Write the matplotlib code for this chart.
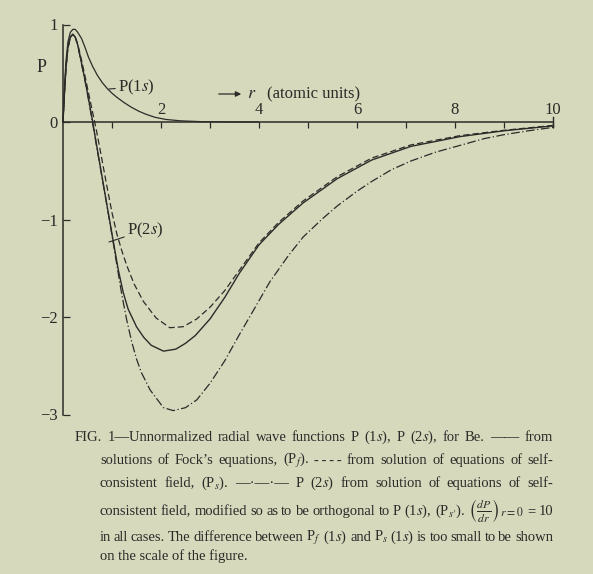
import matplotlib.pyplot as plt

# radial wave functions (r in atomic units)
r_1s = [0, 0.03, 0.06, 0.1, 0.15, 0.2, 0.25, 0.3, 0.38, 0.45, 0.52, 0.6, 0.7, 0.8,
        0.9, 1.0, 1.1, 1.25, 1.4, 1.55, 1.7, 1.88, 2.1, 2.4, 2.8, 3.3, 4.0]
p_1s = [0, 0.36, 0.62, 0.82, 0.92, 0.95, 0.95, 0.92, 0.855, 0.765, 0.665, 0.575, 0.48, 0.405,
        0.345, 0.295, 0.253, 0.198, 0.150, 0.110, 0.078, 0.048, 0.026, 0.012, 0.004, 0.001, 0]

# P(2s), Fock (solid)
r_f = [0, 0.03, 0.06, 0.1, 0.15, 0.2, 0.25, 0.3, 0.38, 0.45, 0.52, 0.6, 0.7, 0.8, 0.9,
       1.0, 1.13, 1.23, 1.33, 1.5, 1.65, 1.8, 2.05, 2.3, 2.5, 2.7, 3.0, 3.3, 3.6, 4.0,
       4.4, 4.9, 5.6, 6.3, 7.1, 8.1, 9.0, 10.0]
p_f = [0, 0.3, 0.55, 0.76, 0.87, 0.9, 0.87, 0.79, 0.60, 0.43, 0.24, 0.02, -0.28, -0.57,
       -0.86, -1.15, -1.52, -1.75, -1.92, -2.10, -2.21, -2.29, -2.35, -2.33, -2.27, -2.19,
       -2.02, -1.80, -1.55, -1.26, -1.05, -0.83, -0.58, -0.39, -0.25, -0.15, -0.09, -0.04]

# P(2s), self-consistent field (dashed)
r_s = [0, 0.03, 0.06, 0.1, 0.15, 0.2, 0.25, 0.3, 0.38, 0.45, 0.52, 0.6, 0.68, 0.8, 0.9,
       1.0, 1.1, 1.2, 1.3, 1.45, 1.64, 1.9, 2.18, 2.45, 2.73, 3.0, 3.3, 3.6, 4.0, 4.4,
       4.9, 5.6, 6.3, 7.1, 8.1, 9.0, 10.0]
p_s = [0, 0.3, 0.55, 0.76, 0.87, 0.9, 0.87, 0.8, 0.63, 0.47, 0.30, 0.11, -0.08, -0.40,
       -0.67, -0.93, -1.15, -1.32, -1.47, -1.66, -1.84, -2.01, -2.11, -2.10, -2.02, -1.90,
       -1.73, -1.52, -1.24, -1.03, -0.81, -0.56, -0.37, -0.235, -0.14, -0.085, -0.035]

# P(2s), orthogonalised to P(1s) (dash-dot)
r_o = [0, 0.03, 0.06, 0.1, 0.15, 0.2, 0.25, 0.3, 0.38, 0.45, 0.52, 0.6, 0.7, 0.8, 0.9,
       1.0, 1.1, 1.2, 1.3, 1.4, 1.5, 1.6, 1.78, 2.05, 2.25, 2.5, 2.73, 3.0, 3.3, 3.6,
       3.9, 4.22, 4.6, 4.9, 5.3, 5.6, 6.0, 6.3, 6.7, 7.1, 7.6, 8.1, 8.6, 9.0, 9.5, 10.0]
p_o = [0, 0.3, 0.55, 0.76, 0.87, 0.9, 0.87, 0.79, 0.59, 0.42, 0.23, 0.0, -0.29, -0.58,
       -0.87, -1.16, -1.47, -1.77, -2.03, -2.25, -2.43, -2.57, -2.75, -2.93, -2.96, -2.93,
       -2.85, -2.68, -2.45, -2.18, -1.92, -1.64, -1.37, -1.18, -0.99, -0.86, -0.71, -0.61,
       -0.49, -0.40, -0.31, -0.24, -0.17, -0.13, -0.09, -0.055]

x_ticks = [1, 2, 3, 4, 5, 6, 7, 8, 9, 10]
x_labels = [2, 4, 6, 8, 10]
y_ticks = [1, 0, -1, -2, -3]

caption = [
    "FIG. 1\u2014Unnormalized radial wave functions P (1$s$), P (2$s$), for Be. \u2014\u2014 from",
    "solutions of Fock\u2019s equations, (P$_f$). -\u2009-\u2009-\u2009- from solution of equations of self-",
    "consistent field, (P$_s$). \u2014\u00b7\u2014\u00b7\u2014 P (2$s$) from solution of equations of self-",
    "consistent field, modified so as to be orthogonal to P (1$s$), (P$_{s\\prime}$). "
    "$\\left(\\frac{dP}{dr}\\right)_{r=0}$ = 10",
    "in all cases. The difference between P$_f$ (1$s$) and P$_s$ (1$s$) is too small to be shown",
]
caption_last = "on the scale of the figure."

BG = '#d7d9bd'
INK = '#2b2b28'

plt.rcParams['font.family'] = ['Liberation Serif', 'DejaVu Serif']
plt.rcParams['mathtext.fontset'] = 'stix'

W, H = 593, 574
fig = plt.figure(figsize=(W / 100, H / 100), dpi=100)
fig.patch.set_facecolor(BG)

# pixel mapping of the original plot: r=0 at x=63, 49 px per unit; P=0 at y=122, 97.5 px per unit
xl, xr, yb, yt = -0.2, 10.4, -3.1, 1.1
left = (63 + 49 * xl) / W
bottom = 1 - (122 - 97.5 * yb) / H
ax = fig.add_axes([left, bottom, 49 * (xr - xl) / W, 97.5 * (yt - yb) / H])
ax.set_xlim(xl, xr)
ax.set_ylim(yb, yt)
ax.patch.set_alpha(0)

def d(xp, yp):
    return (xp - 63) / 49, (122 - yp) / 97.5

ax.plot(r_1s, p_1s, color=INK, lw=0.9)
ax.plot(r_f, p_f, color=INK, lw=1.0)
ax.plot(r_s, p_s, color=INK, lw=0.9, dashes=(5, 2.5))
ax.plot(r_o, p_o, color=INK, lw=0.9, dashes=(7, 2, 1, 2))

for s in ['top', 'right']:
    ax.spines[s].set_visible(False)
ax.spines['left'].set_position(('data', 0))
ax.spines['bottom'].set_position(('data', 0))
ax.spines['left'].set_bounds(-3, 1)
ax.spines['bottom'].set_bounds(0, 10)
for s in ['left', 'bottom']:
    ax.spines[s].set_color(INK)
    ax.spines[s].set_linewidth(1.1)

ax.set_xticks(x_ticks)
ax.tick_params(axis='x', direction='out', length=4.5, width=0.9, color=INK, labelbottom=False)
ax.set_yticks(y_ticks)
ax.set_yticklabels([str(v).replace('-', '\u2212') for v in y_ticks])
ax.tick_params(axis='y', direction='in', length=5, width=0.9, color=INK, labelsize=12,
               labelcolor=INK, pad=4)
ax.plot([10, 10], [-0.05, 0.05], color=INK, lw=1.0)

for v in x_labels:
    ax.annotate(str(v), (v, 0), xytext=(0, 3), textcoords='offset points',
                ha='center', va='bottom', fontsize=12, color=INK)

# axis captions
ax.text(*d(42, 68), 'P', ha='center', va='center', fontsize=13, color=INK)
ax.annotate('', xy=d(42, 77), xytext=d(42, 103),
            arrowprops=dict(arrowstyle='-|>', lw=0.9, color=INK, mutation_scale=8))
ax.annotate('', xy=d(244, 94), xytext=d(216, 94),
            arrowprops=dict(arrowstyle='-|>', lw=0.9, color=INK, mutation_scale=8))
ax.text(*d(247, 94), '$r$', ha='left', va='center', fontsize=13, color=INK)
ax.text(*d(267, 94), '(atomic units)', ha='left', va='center', fontsize=12, color=INK)

# curve labels
ax.annotate('P(1$s$)', xy=d(109, 89), xytext=d(118, 87), ha='left', va='center',
            fontsize=12, color=INK,
            arrowprops=dict(arrowstyle='-', lw=0.8, color=INK, shrinkA=0, shrinkB=0))
ax.annotate('P(2$s$)', xy=d(109, 242), xytext=d(127, 230), ha='left', va='center',
            fontsize=12, color=INK,
            arrowprops=dict(arrowstyle='-', lw=0.8, color=INK, shrinkA=0, shrinkB=0))

# caption, justified line by line
renderer = fig.canvas.get_renderer()
CAP = 10.5

def justify(line, x0, x1, y, size=CAP):
    words = line.split(' ')
    texts = []
    for w in words:
        fs = size * 1.15 if '\\frac' in w else size
        texts.append(fig.text(0, 1 - y / H, w, fontsize=fs, va='baseline', ha='left', color=INK))
    widths = [t.get_window_extent(renderer).width for t in texts]
    gap = (x1 - x0 - sum(widths)) / (len(words) - 1)
    x = x0
    for t, w in zip(texts, widths):
        t.set_x(x / W)
        x += w + gap

line_y = [441, 464, 487, 515, 541]
for i, line in enumerate(caption):
    justify(line, 75 if i == 0 else 100, 553, line_y[i])
fig.text(100 / W, 1 - 560 / H, caption_last, fontsize=CAP, va='baseline', color=INK)

fig.savefig('out.png', dpi=100, facecolor=BG)
